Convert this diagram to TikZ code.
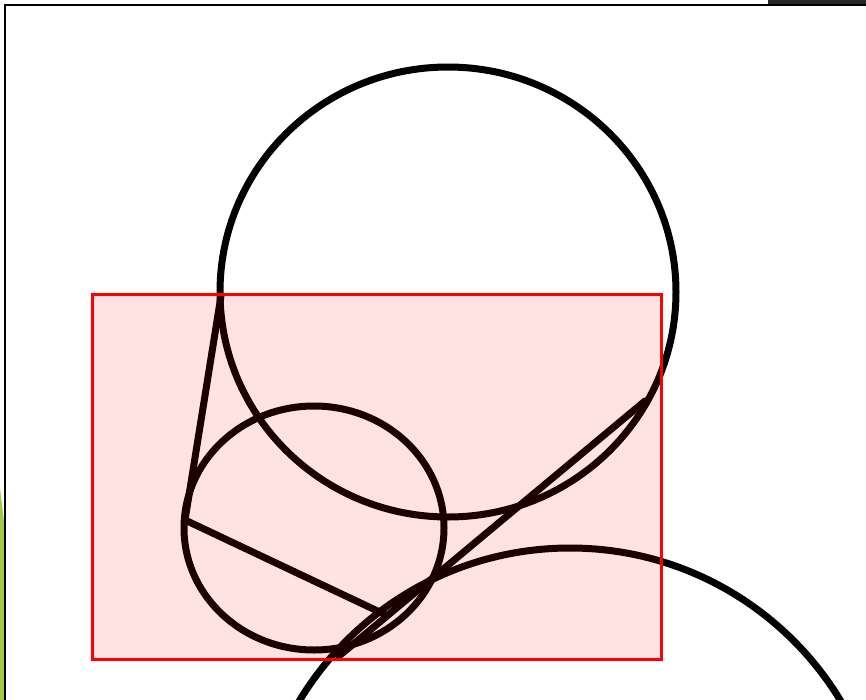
\documentclass[tikz,border=0pt]{standalone}
\usepackage{tikz}
\usetikzlibrary{positioning}
\definecolor{leafgreen}{RGB}{160,200,70}
\definecolor{bargray}{RGB}{40,40,40}

\begin{document}
\begin{tikzpicture}[x=0.02cm, y=-0.02cm,
    curve/.style={draw=black, line width=0.14cm, line cap=round, line join=round},
    frame/.style={draw=black, line width=0.05cm},
    overlay box/.style={draw=red, line width=0.06cm, fill=red, fill opacity=0.11, draw opacity=1}]
    \useasboundingbox (0,0) rectangle (866,700);
    \fill[white] (0,0) rectangle (866,700);
    % screenshot edges
    \fill[leafgreen] (0,488) -- (5,530) -- (5,700) -- (0,700) -- cycle;
    \fill[bargray] (768,0) rectangle (866,5);
    \draw[frame] (5,700) -- (5,5) -- (866,5);
    % circles
    \coordinate (bigc) at (448,292);
    \coordinate (smallc) at (314,528);
    \coordinate (lowc) at (570,864);
    \draw[curve] (bigc) ellipse [x radius=228, y radius=225];
    \draw[curve] (smallc) ellipse [x radius=130, y radius=122];
    \draw[curve] (lowc) circle [radius=316];
    % tangent lines
    \coordinate (topleft) at (221,296);
    \coordinate (corner) at (185,520);
    \coordinate (meet) at (386,615);
    \coordinate (topright) at (645,401);
    \coordinate (bottom) at (339,656);
    \draw[curve] (topleft) -- (corner) -- (meet);
    \draw[curve] (topright) -- (bottom);
    % highlight
    \draw[overlay box] (92,294) rectangle (661,659);
\end{tikzpicture}
\end{document}
